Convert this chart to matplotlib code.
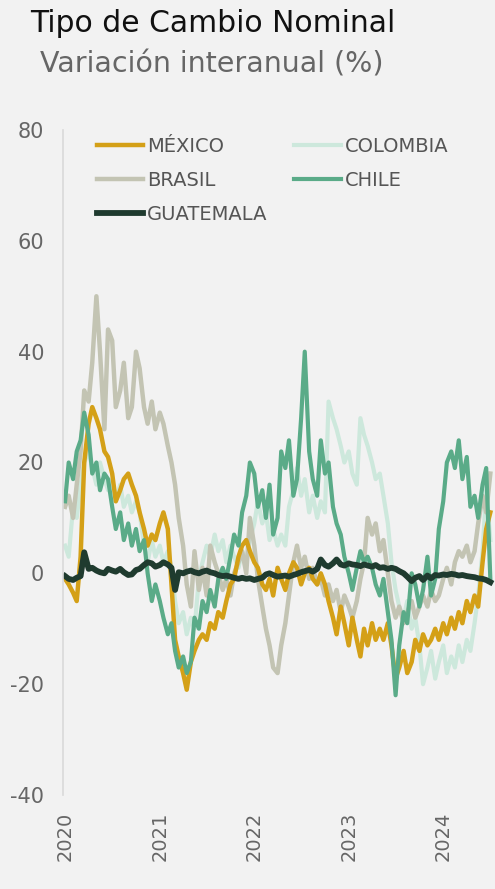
import numpy as np
import matplotlib.pyplot as plt
import pandas as pd

plt.rcParams['font.family'] = ['DejaVu Sans']
plt.rcParams['axes.unicode_minus'] = False

# semi-monthly observations, Jan 2020 - Jul 2024
fechas = pd.date_range('2020-01-01', periods=109, freq='SMS')

mexico = [-1, -2, -3.5, -5, 3, 20, 27, 30, 28, 26, 22, 21, 18, 13, 15, 17, 18, 16, 14, 11,
          8, 5, 7, 6, 9, 11, 8, -2, -12, -15, -18, -21, -16, -14, -12, -11, -12, -9, -10, -7,
          -8, -5, -2, -1, 3, 5, 6, 4, 2, 1, -2, -3, -1, -4, 1, -1, -3, 0, 2, 1,
          -2, 0, 1, -1, -2, 0, -2, -5, -8, -11, -6, -9, -13, -8, -12, -15, -10, -13, -9, -12,
          -10, -12, -9, -13, -19, -17, -14, -18, -16, -12, -14, -11, -13, -12, -10, -12, -9, -11, -8, -10,
          -7, -9, -5, -7, -4, -6, 2, 8, 11]

colombia = [5, 3, 12, 10, 16, 20, 22, 19, 16, 20, 17, 15, 17, 13, 16, 12, 14, 11, 13, 11,
            5, 2, 6, 3, 5, 2, 4, 1, -5, -9, -7, -11, -8, -10, -1, 2, 5, 3, 7, 4,
            6, 2, 5, 3, 1, 4, 2, 6, 9, 13, 9, 11, 6, 8, 5, 7, 5, 12, 15, 19,
            14, 17, 11, 14, 10, 13, 11, 31, 28, 26, 23, 20, 22, 18, 16, 28, 25, 23, 20, 17,
            18, 14, 9, 2, -3, -6, -8, -5, -10, -8, -13, -20, -17, -14, -19, -16, -13, -18, -15, -17,
            -13, -16, -12, -14, -9, -4, 4, 15, 6]

brasil = [12, 14, 10, 16, 22, 33, 31, 38, 50, 40, 26, 44, 42, 30, 33, 38, 28, 30, 40, 37,
          30, 27, 31, 26, 29, 27, 23, 20, 16, 10, 5, -2, -6, 4, -3, 1, -4, 5, 2, 0,
          -3, -1, -4, 0, 2, 4, 0, 10, 5, -1, -6, -10, -13, -17, -18, -13, -9, -4, 2, 5,
          1, 3, -1, 1, -2, -1, -4, -2, -5, -3, -7, -4, -6, -8, -5, -1, 2, 10, 7, 9,
          4, 6, 0, -5, -8, -6, -9, -7, -5, -8, -6, -4, -6, -3, -5, -4, -1, 1, -2, 2,
          4, 3, 5, 2, 4, 9, 14, 11, 18]

chile = [13, 20, 17, 22, 24, 29, 25, 18, 20, 15, 18, 17, 12, 8, 11, 6, 9, 5, 8, 4,
         6, 0, -5, -2, -5, -8, -11, -9, -14, -17, -15, -18, -16, -8, -10, -5, -7, -3, -6, -1,
         1, -1, 3, 7, 5, 11, 14, 20, 18, 12, 15, 10, 16, 7, 10, 22, 19, 24, 14, 17,
         28, 40, 22, 17, 14, 24, 18, 20, 12, 9, 7, 3, 0, -3, 1, 4, 2, 3, 1, -2,
         -4, -1, -7, -12, -22, -13, -7, -9, 0, -2, -6, -3, 3, -4, -1, 8, 13, 20, 22, 19,
         24, 17, 21, 12, 14, 10, 16, 19, -1]

guatemala = [-0.5, -1, -1.2, -0.8, -0.5, 3.8, 0.8, 1.0, 0.5, 0.2, 0.0, 0.8, 0.5, 0.3, 0.8, 0.2, -0.3, -0.2, 0.6, 0.8,
             1.5, 2.0, 1.8, 1.2, 1.5, 2.0, 1.6, 1.0, -3.0, 0.2, 0.0, 0.3, 0.5, 0.2, 0.0, 0.3, 0.5, 0.2, 0.0, -0.3,
             -0.5, -0.4, -0.6, -0.8, -1.0, -0.8, -1.0, -0.9, -1.2, -1.0, -0.8, -0.2, 0.0, -0.3, -0.6, -0.5, -0.4, -0.6, -0.3, -0.1,
             0.2, 0.4, 0.6, 0.3, 0.8, 2.5, 1.5, 1.2, 1.8, 2.5, 1.6, 1.4, 1.8, 1.6, 1.5, 1.3, 1.6, 1.4, 1.2, 1.5,
             1.0, 1.1, 0.8, 1.0, 0.8, 0.4, 0.0, -0.6, -1.4, -0.8, -0.5, -1.2, -0.4, -0.9, -0.3, -0.4, -0.2, -0.3, -0.1, -0.2,
             -0.4, -0.3, -0.5, -0.6, -0.7, -0.9, -1.0, -1.2, -1.6]

anios = ['2020', '2021', '2022', '2023', '2024']

bg = '#f2f2f2'
fig = plt.figure(figsize=(4.95, 8.89), dpi=100, facecolor=bg)
ax = fig.add_axes([63/495, 1-795/889, (495-63)/495, (795-130)/889], facecolor=bg)

l_col, = ax.plot(fechas, colombia, color='#cde8dc', lw=3.0, label='COLOMBIA')
l_bra, = ax.plot(fechas, brasil, color='#c3c4b3', lw=3.2, label='BRASIL')
l_mex, = ax.plot(fechas, mexico, color='#d4a017', lw=3.2, label='MÉXICO')
l_chi, = ax.plot(fechas, chile, color='#5aab88', lw=3.0, label='CHILE')
l_gua, = ax.plot(fechas, guatemala, color='#1f3b2f', lw=4.2, label='GUATEMALA')

ax.set_ylim(-40, 80)
ax.set_yticks(range(-40, 81, 20))
ax.set_xlim(pd.Timestamp('2019-12-24'), pd.Timestamp('2024-07-19'))
ax.set_xticks([pd.Timestamp(a + '-01-01') for a in anios])
ax.set_xticklabels(anios, rotation=90, fontsize=14, color='#666666')
ax.tick_params(axis='y', labelsize=15, labelcolor='#666666', length=0, pad=13.5)
ax.tick_params(axis='x', length=0, pad=12)
for s in ['top', 'right', 'bottom']:
    ax.spines[s].set_visible(False)
ax.spines['left'].set_color('#d9d9d9')
ax.spines['left'].set_linewidth(1.2)

leg = ax.legend(handles=[l_mex, l_bra, l_gua, l_col, l_chi], ncol=2, loc='upper left',
                bbox_to_anchor=(0.0787, 0.99), frameon=False, fontsize=14,
                handlelength=2.37, handletextpad=0.2, columnspacing=1.39,
                labelspacing=0.78, borderpad=0, borderaxespad=0)
for t in leg.get_texts():
    t.set_color('#555555')

fig.text(30/495, 1-32/889, 'Tipo de Cambio Nominal', fontsize=21.5, color='#111111', va='baseline')
fig.text(40/495, 1-72/889, 'Variación interanual (%)', fontsize=20.5, color='#666666', va='baseline')

fig.savefig('out.png', dpi=100, facecolor=bg)
